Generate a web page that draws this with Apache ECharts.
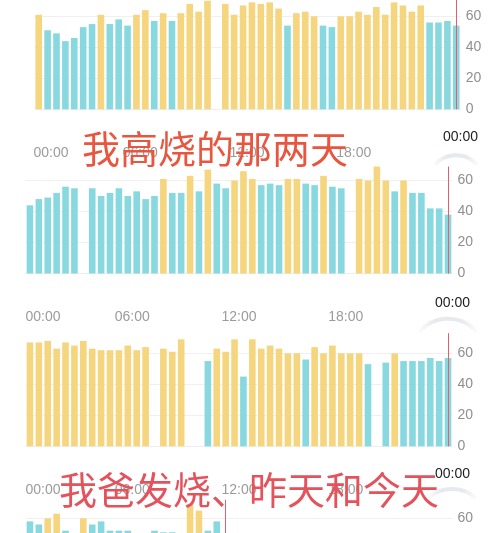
<!DOCTYPE html>
<html><head><meta charset="utf-8">
<script src="https://cdn.jsdelivr.net/npm/echarts@6/dist/echarts.min.js"></script>
<style>html,body{margin:0;padding:0;background:#fff}#c{width:500px;height:533px}</style>
</head><body><div id="c"></div>
<script>
// ---- data ----
const hourLabels = ['00:00', '06:00', '12:00', '18:00', '00:00'];
const day1 = [61,51,49,44,46,53,55,61,55,58,54,61,64,57,62,57,62,68,63,70,null,68,61,67,69,68,69,65,54,62,63,60,54,53,60,60,63,61,66,61,69,67,63,67,56,56,57,54];
const day2 = [44,48,49,52,56,55,null,55,50,52,55,50,53,48,50,61,52,52,63,53,67,58,55,60,66,61,57,58,57,61,61,58,57,63,56,55,null,61,60,69,60,53,60,52,52,42,42,38];
const day3 = [67,67,68,63,67,65,68,63,62,62,62,65,62,64,null,63,61,69,null,null,55,63,61,69,45,69,63,65,63,60,60,56,64,60,65,60,60,60,53,null,54,60,55,55,55,57,55,57];
const day4 = [58,56,60,63,52,48,60,56,58,52,52,52,48,47,52,51,51,48,69,65,52,58,50,null,null,null,null,null,null,null,null,null,null,null,null,null,null,null,null,null,null,null,null,null,null,null,null,null];
const nowSlot = [47, 47, 47, 22];
const nowTop = [80, 69, 73, 72];
const title1 = '我高烧的那两天';
const title2 = '我爸发烧、昨天和今天';
const HIGH = 60;

// ---- layout / style ----
const YELLOW = '#F5D57E', TEAL = '#88D8DF';
const FONT = "'Liberation Sans', Arial, sans-serif";
const panels = [
  {data: day1, left: 34.3, width: 426.4, top: -14.7, xOffset: -16, shift: 8, lift: 16, showX: false, arc: null},
  {data: day2, left: 25.5, width: 427, top: 149.5, xOffset: -16.8, shift: 8, lift: 16.3, showX: true, arc: {cx: 456, cy: 184.5, r: 29.2, a: 0.815}},
  {data: day3, left: 25.5, width: 427, top: 322.3, xOffset: -7.7, shift: 0, lift: 14.3, showX: true, arc: {cx: 448, cy: 357.5, r: 38.8, a: 0.845}},
  {data: day4, left: 25.5, width: 427, top: 487.3, xOffset: -15.7, shift: 0, lift: 16, showX: true, arc: {cx: 452, cy: 525.5, r: 36.5, a: 0.717}}
];

const grid = [], xAxis = [], yAxis = [], series = [], graphic = [];
panels.forEach((p, k) => {
  grid.push({left: p.left, width: p.width, top: p.top, height: 124, containLabel: false, outerBoundsMode: 'none'});
  xAxis.push({
    type: 'value', gridIndex: k, min: 0, max: 48, interval: 12, position: 'top', offset: p.xOffset,
    axisLine: {show: false}, axisTick: {show: false}, splitLine: {show: false},
    axisLabel: {
      show: p.showX, margin: 6, showMinLabel: true, showMaxLabel: true, hideOverlap: false,
      color: '#9b9b9b', fontSize: 14, fontFamily: FONT,
      formatter: v => {
        const t = hourLabels[Math.round(v / 12)];
        if (v === 0) return '{first|' + t + '}';
        if (v === 48) return '{now|' + t + '}';
        return '{mid|' + t + '}';
      },
      rich: {
        first: {color: '#9b9b9b', fontSize: 14, fontFamily: FONT, padding: [0, 0, 0, 35 + 2 * p.shift]},
        mid: {color: '#9b9b9b', fontSize: 14, fontFamily: FONT, padding: [0, 0, 0, 2 * p.shift]},
        now: {color: '#1c1c1c', fontSize: 14, fontFamily: FONT, padding: [0, 0, p.lift, 2 * p.shift]}
      }
    }
  });
  yAxis.push({
    type: 'value', gridIndex: k, position: 'right', min: 0, max: 80, interval: 20,
    axisLine: {show: false}, axisTick: {show: false},
    axisLabel: {margin: 5, color: '#8f8f8f', fontSize: 14, fontFamily: FONT, formatter: v => v >= 80 ? '' : String(v)},
    splitLine: {lineStyle: {color: ['#eeeeee', '#f0f0f0', '#f0f0f0', '#f0f0f0', 'rgba(0,0,0,0)'], width: 1}}
  });
  const pts = [];
  p.data.forEach((v, i) => { if (v !== null) pts.push([i + 0.5, v]); });
  series.push({
    type: 'bar', xAxisIndex: k, yAxisIndex: k, barWidth: 6.6, data: pts, clip: true, silent: true,
    itemStyle: {color: q => q.value[1] >= HIGH ? YELLOW : TEAL},
    markLine: {
      symbol: ['none', 'none'], silent: true, label: {show: false}, animation: false,
      lineStyle: {color: '#E0606F', width: 1, type: 'solid'},
      data: [[{coord: [nowSlot[k] + 0.5, 0]}, {coord: [nowSlot[k] + 0.5, nowTop[k]]}]]
    }
  });
  if (p.arc) {
    graphic.push({
      type: 'arc', silent: true, z: 5,
      shape: {cx: p.arc.cx, cy: p.arc.cy, r: p.arc.r, startAngle: -Math.PI / 2 - p.arc.a, endAngle: -Math.PI / 2 + p.arc.a, clockwise: true},
      style: {fill: null, lineWidth: 4, stroke: new echarts.graphic.LinearGradient(0, 0, 1, 0, [
        {offset: 0, color: 'rgba(228,230,236,0)'}, {offset: 0.3, color: '#E7E9EE'},
        {offset: 0.7, color: '#E7E9EE'}, {offset: 1, color: 'rgba(228,230,236,0)'}])}
    });
  }
});

graphic.push({
  type: 'text', z: 100, silent: true, x: 82, y: 148.5,
  style: {text: title1, font: "38px 'Noto Sans CJK SC'", fill: '#E8563F', align: 'left', verticalAlign: 'middle'}
});
graphic.push({
  type: 'text', z: 100, silent: true, x: 59, y: 490,
  style: {text: title2, font: "38px 'Noto Sans CJK SC'", fill: '#E4525C', align: 'left', verticalAlign: 'middle'}
});

const chart = echarts.init(document.getElementById('c'), null, {renderer: 'canvas'});
chart.setOption({
  animation: false, backgroundColor: '#ffffff',
  grid, xAxis, yAxis, series, graphic
});
</script>
</body></html>
